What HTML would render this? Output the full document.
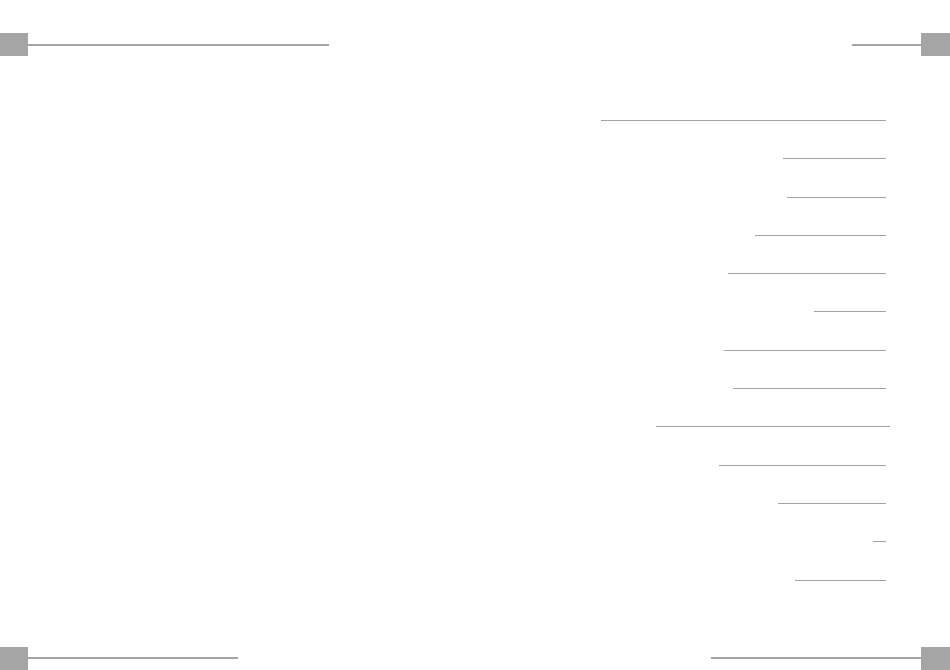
<!DOCTYPE html>
<html><head><meta charset="utf-8"><style>
html,body{margin:0;padding:0;background:#fff;}
body{width:950px;height:670px;position:relative;overflow:hidden;}
.s{position:absolute;background:#a6a5a5;}
.l{position:absolute;height:1px;background:#a3a3a3;}
</style></head><body>
<div class="s" style="left:0;top:33px;width:28px;height:23px"></div>
<div class="s" style="left:28px;top:44px;width:301px;height:2px"></div>
<div class="s" style="left:921px;top:33px;width:29px;height:23px"></div>
<div class="s" style="left:852px;top:44px;width:69px;height:2px"></div>
<div class="s" style="left:0;top:647px;width:28px;height:23px"></div>
<div class="s" style="left:28px;top:657px;width:210px;height:2px"></div>
<div class="s" style="left:921px;top:647px;width:29px;height:23px"></div>
<div class="s" style="left:711px;top:657px;width:210px;height:2px"></div>
<div class="l" style="left:601px;top:120px;width:285px"></div>
<div class="l" style="left:783px;top:158px;width:103px"></div>
<div class="l" style="left:787px;top:197px;width:99px"></div>
<div class="l" style="left:755px;top:235px;width:131px"></div>
<div class="l" style="left:728px;top:273px;width:158px"></div>
<div class="l" style="left:814px;top:311px;width:72px"></div>
<div class="l" style="left:724px;top:350px;width:162px"></div>
<div class="l" style="left:733px;top:388px;width:153px"></div>
<div class="l" style="left:656px;top:426px;width:234px"></div>
<div class="l" style="left:719px;top:465px;width:167px"></div>
<div class="l" style="left:778px;top:503px;width:108px"></div>
<div class="l" style="left:873px;top:541px;width:13px"></div>
<div class="l" style="left:795px;top:580px;width:91px"></div>
</body></html>
